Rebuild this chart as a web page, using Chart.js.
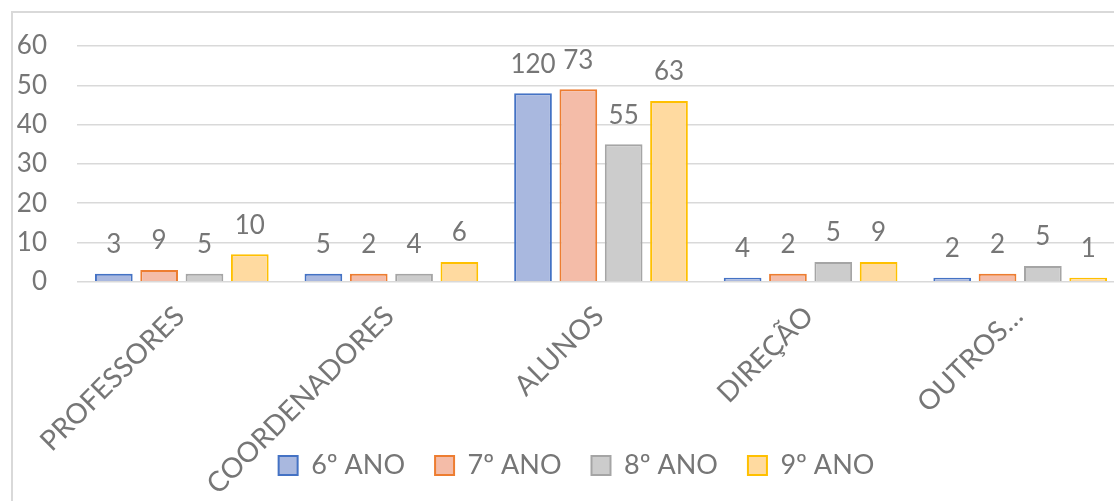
<!DOCTYPE html>
<html>
<head>
<meta charset="utf-8">
<script src="https://cdn.jsdelivr.net/npm/chart.js@4/dist/chart.umd.min.js"></script>
<style>
  html, body { margin: 0; padding: 0; background: #ffffff; overflow: hidden; width: 1114px; height: 501px; }
  #wrap { position: absolute; left: 0; top: 0; width: 1130px; height: 501px; }
  #frame { position: absolute; left: 11px; top: 11px; width: 1200px; height: 600px;
           border-left: 2px solid #d9d9d9; border-top: 2px solid #d9d9d9; box-sizing: border-box; }
</style>
</head>
<body>
<div id="frame"></div>
<div id="wrap"><canvas id="c" width="1130" height="501"></canvas></div>
<script>
const categories = ['PROFESSORES', 'COORDENADORES', 'ALUNOS', 'DIREÇÃO', 'OUTROS…'];
const seriesNames = ['6º ANO', '7º ANO', '8º ANO', '9º ANO'];

const values6 = [2, 2, 48, 1, 1];
const values7 = [3, 2, 49, 2, 2];
const values8 = [2, 2, 35, 5, 4];
const values9 = [7, 5, 46, 5, 1];

const labels6 = ['3', '5', '120', '4', '2'];
const labels7 = ['9', '2', '73', '2', '2'];
const labels8 = ['5', '4', '55', '5', '5'];
const labels9 = ['10', '6', '63', '9', '1'];

const yTicks = [0, 10, 20, 30, 40, 50, 60];

const fills = ['#A9B8DF', '#F4BCA8', '#CCCCCC', '#FFDAA0'];
const borders = ['#4472C4', '#ED7D31', '#A5A5A5', '#FFC000'];
const TEXT = '#767676';
const FONT = 'Lato';
const FS = 26;

const allValues = [values6, values7, values8, values9];
const allLabels = [labels6, labels7, labels8, labels9];

const datasets = seriesNames.map((name, i) => ({
  label: name,
  data: allValues[i],
  valueLabels: allLabels[i],
  backgroundColor: fills[i],
  borderColor: borders[i],
  borderWidth: 2,
  categoryPercentage: 0.865,
  barPercentage: 0.832
}));

const valueLabelPlugin = {
  id: 'valueLabels',
  afterLayout(chart) {
    chart.scales.x.bottom = chart.height;
    chart.legend.left += 8;
    chart.legend.right += 8;
  },
  afterDatasetsDraw(chart) {
    const ctx = chart.ctx;
    ctx.save();
    ctx.font = FS + 'px ' + FONT;
    ctx.fillStyle = TEXT;
    ctx.textAlign = 'center';
    ctx.textBaseline = 'middle';
    chart.data.datasets.forEach((ds, di) => {
      const meta = chart.getDatasetMeta(di);
      meta.data.forEach((bar, i) => {
        ctx.fillText(ds.valueLabels[i], bar.x, bar.y - 29);
      });
    });
    ctx.restore();
  }
};

new Chart(document.getElementById('c'), {
  type: 'bar',
  data: { labels: categories, datasets: datasets },
  options: {
    responsive: false,
    animation: false,
    events: [],
    layout: { padding: { left: 12, right: 5, top: 46, bottom: 12 } },
    plugins: {
      tooltip: { enabled: false },
      legend: {
        position: 'bottom',
        labels: {
          boxWidth: 19,
          boxHeight: 19,
          padding: 30,
          color: TEXT,
          font: { family: FONT, size: 27 }
        }
      }
    },
    scales: {
      x: {
        grid: { display: false },
        border: { display: false },
        ticks: {
          color: TEXT,
          font: { family: FONT, size: 28 },
          minRotation: 45,
          maxRotation: 45,
          autoSkip: false,
          padding: 10,
          labelOffset: -2
        },
        afterFit(scale) { scale.height = 140.3; }
      },
      y: {
        min: 0,
        max: 60,
        afterBuildTicks(scale) { scale.ticks = yTicks.map(v => ({ value: v })); },
        grid: { color: '#d9d9d9', lineWidth: 1.5, drawTicks: false },
        border: { display: false },
        ticks: {
          color: TEXT,
          font: { family: FONT, size: FS },
          padding: 30
        },
        afterFit(scale) { scale.width = 65; }
      }
    }
  },
  plugins: [valueLabelPlugin]
});
</script>
</body>
</html>
